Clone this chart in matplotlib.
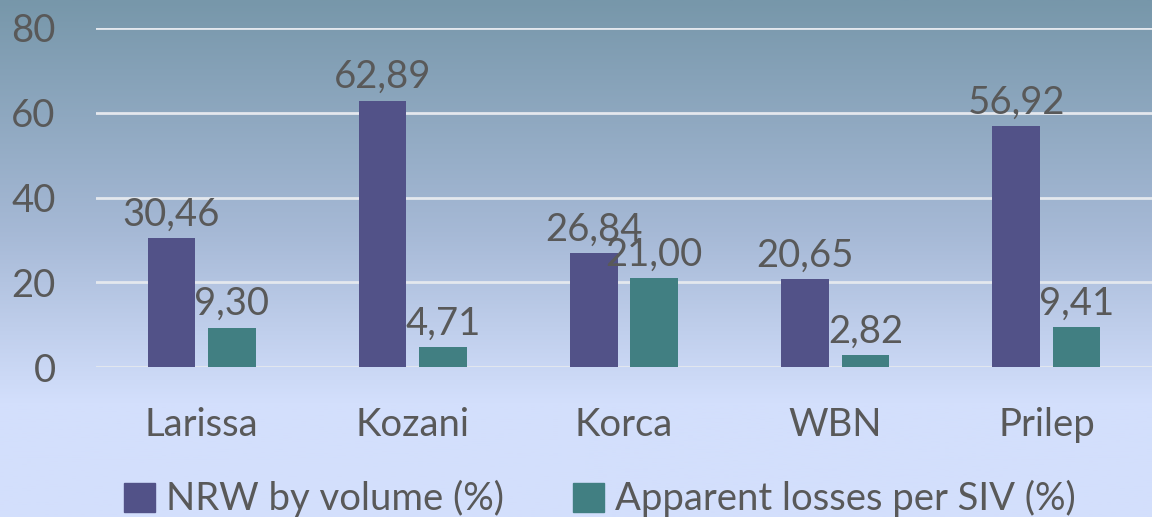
import numpy as np
import matplotlib.pyplot as plt
from matplotlib.colors import LinearSegmentedColormap
from matplotlib.patches import Patch

cities = ["Larissa", "Kozani", "Korca", "WBN", "Prilep"]
nrw_volume = [30.46, 62.89, 26.84, 20.65, 56.92]
apparent_losses = [9.30, 4.71, 21.00, 2.82, 9.41]
y_ticks = [0, 20, 40, 60, 80]

plt.rcParams['font.family'] = ['Lato', 'DejaVu Sans']
text_col = "#595959"
nrw_col = "#525288"
app_col = "#417f82"
fs = 27.5

fig = plt.figure(figsize=(11.52, 5.17), dpi=100)

# background gradient
bg = fig.add_axes([0, 0, 1, 1], zorder=0)
cmap = LinearSegmentedColormap.from_list(
    "bg", [(0, "#7797aa"), (0.45, "#a6b9d6"), (0.78, "#d3dffc"), (1, "#d3dffc")])
grad = np.linspace(0, 1, 256).reshape(-1, 1)
bg.imshow(grad, aspect="auto", cmap=cmap, extent=[0, 1, 0, 1], origin="upper")
bg.axis("off")

ax = fig.add_axes([96 / 1152, 1 - 367 / 517, 1 - 96 / 1152, 339 / 517], zorder=1)
ax.set_facecolor("none")

x = np.arange(len(cities))
w = 0.226
off = 0.143
b1 = ax.bar(x - off, nrw_volume, w, color=nrw_col, zorder=3)
b2 = ax.bar(x + off, apparent_losses, w, color=app_col, zorder=3)

def fmt(v):
    return f"{v:.2f}".replace(".", ",")

for bars, vals in [(b1, nrw_volume), (b2, apparent_losses)]:
    for r, v in zip(bars, vals):
        ax.annotate(fmt(v), (r.get_x() + r.get_width() / 2, v),
                    xytext=(0, 4), textcoords="offset points",
                    ha="center", va="bottom", fontsize=fs, color=text_col, zorder=4)

ax.set_ylim(0, 80)
ax.set_xlim(-0.5, len(cities) - 0.5)
ax.set_yticks(y_ticks)
ax.set_xticks(x)
ax.set_xticklabels(cities)
ax.grid(axis="y", color="#e4e8ee", linewidth=2, zorder=1)
for s in ["top", "right", "left", "bottom"]:
    ax.spines[s].set_visible(False)
ax.tick_params(axis="both", length=0, labelsize=fs, colors=text_col)
ax.tick_params(axis="x", pad=29)
ax.tick_params(axis="y", pad=29)

handles = [Patch(color=nrw_col, label="NRW by volume (%)"),
           Patch(color=app_col, label="Apparent losses per SIV (%)")]
fig.legend(handles=handles, loc="center", bbox_to_anchor=(0.521, 0.035), ncol=2,
           frameon=False, fontsize=fs, labelcolor=text_col,
           handlelength=0.8, handleheight=0.8, handletextpad=0.3, columnspacing=1.8)

fig.savefig("out.png", dpi=100)
